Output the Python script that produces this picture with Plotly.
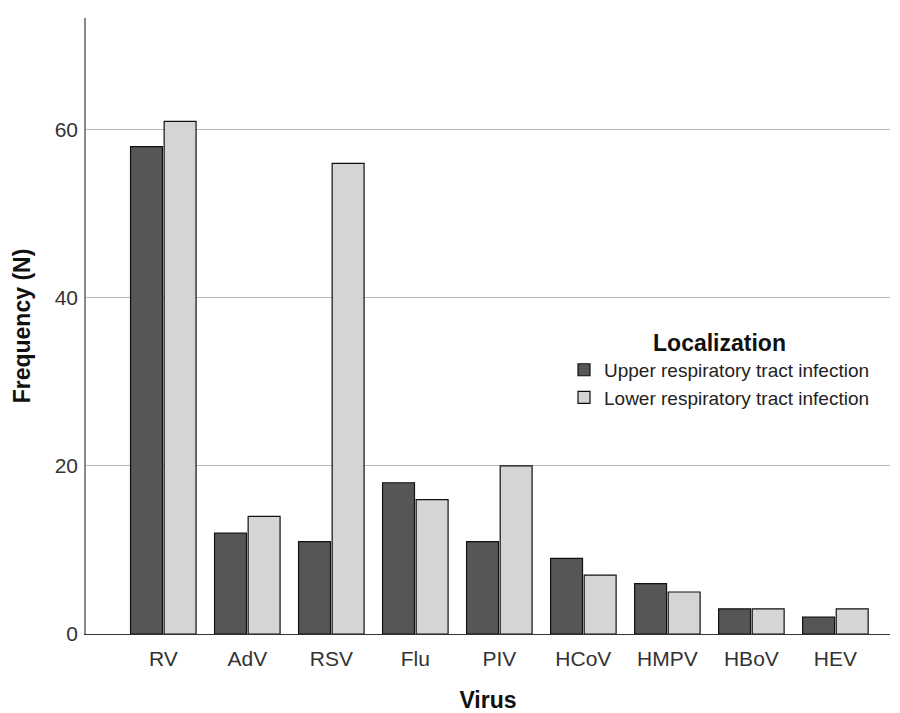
import plotly.graph_objects as go

viruses = ["RV", "AdV", "RSV", "Flu", "PIV", "HCoV", "HMPV", "HBoV", "HEV"]
upper = [58, 12, 11, 18, 11, 9, 6, 3, 2]
lower = [61, 14, 56, 16, 20, 7, 5, 3, 3]
series_names = ["Upper respiratory tract infection", "Lower respiratory tract infection"]
y_ticks = [0, 20, 40, 60]

font_family = "Liberation Sans, Arial, sans-serif"

fig = go.Figure()
fig.add_trace(go.Bar(x=viruses, y=upper, name=series_names[0],
                     marker=dict(color="#565656", line=dict(color="#111111", width=1.2))))
fig.add_trace(go.Bar(x=viruses, y=lower, name=series_names[1],
                     marker=dict(color="#d5d5d5", line=dict(color="#111111", width=1.2))))

fig.update_layout(
    width=900, height=713,
    margin=dict(l=86, r=10, t=18, b=79, autoexpand=False),
    paper_bgcolor="white", plot_bgcolor="white",
    barmode="group", bargap=0.2, bargroupgap=0.05,
    font=dict(family=font_family, color="#222222"),
    showlegend=True,
    legend=dict(
        x=(564 - 86) / 804, y=(634 - 321) / 616, xanchor="left", yanchor="top",
        title=dict(text="<b>Localization</b>", side="top center",
                   font=dict(size=23, color="#111111")),
        font=dict(size=19, color="#222222"),
        bgcolor="rgba(0,0,0,0)", tracegroupgap=0, itemwidth=30,
    ),
    xaxis=dict(
        range=[-0.92, 8.65], showgrid=False, showline=True, linecolor="#333333",
        linewidth=1.2, ticks="", tickfont=dict(size=21, color="#333333"),
        ticklabelstandoff=6,
        title=dict(text="<b>Virus</b>", font=dict(size=23, color="#111111"), standoff=24),
    ),
    yaxis=dict(
        range=[0, 73.3], tickvals=y_ticks, showgrid=True, gridcolor="#b8b8b8",
        gridwidth=1.2, zeroline=False, showline=True, linecolor="#888888", linewidth=1.5,
        ticks="", tickfont=dict(size=21, color="#333333"), ticklabelstandoff=2,
        title=dict(text="<b>Frequency (N)</b>", font=dict(size=23, color="#111111"), standoff=18),
    ),
)

fig.write_html("out.html", config={"displayModeBar": False},
               post_script="document.body.style.margin='0';")
